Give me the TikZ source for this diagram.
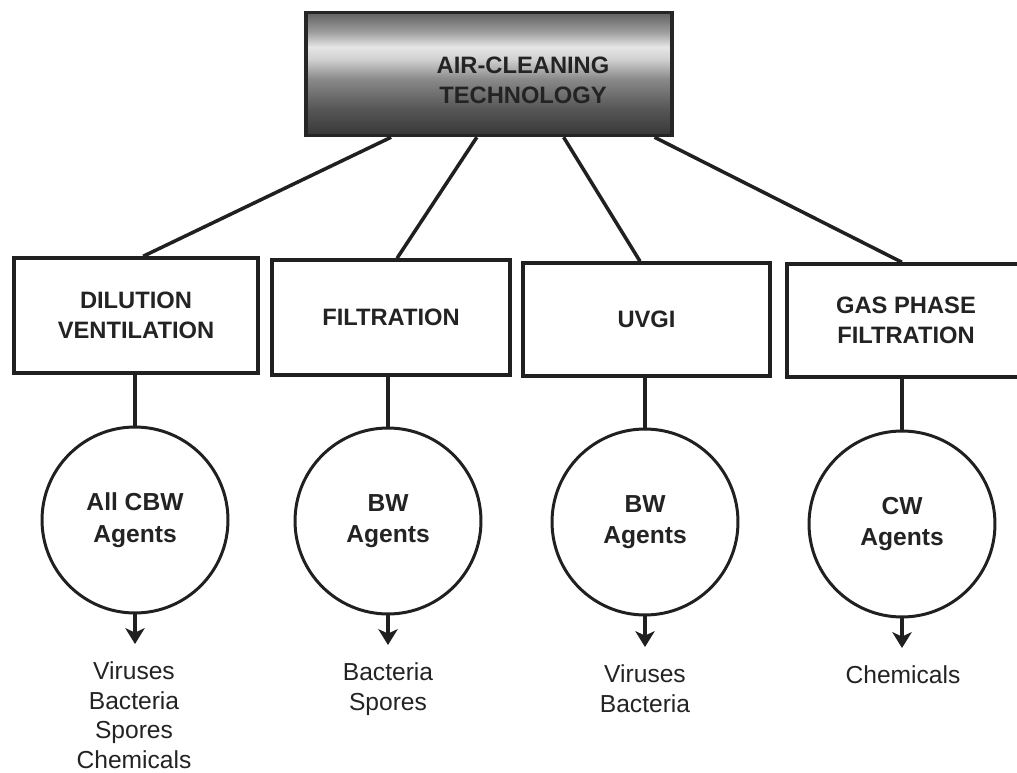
\documentclass[tikz,border=0pt]{standalone}
\usepackage{fontspec}
\setmainfont{Liberation Sans}
\usepackage{xcolor}
\usetikzlibrary{positioning,calc,arrows.meta}

\definecolor{inkgray}{HTML}{232323}
\definecolor{linegray}{HTML}{202020}
\pgfdeclareverticalshading{steelband}{100bp}{color(0bp)=(black!78); color(25bp)=(black!78); color(36bp)=(black!66); color(48bp)=(black!46); color(56bp)=(black!18); color(61bp)=(black!10); color(67bp)=(black!38); color(75bp)=(black!62); color(100bp)=(black!62)}

\tikzset{
  topbox/.style={draw=black!85, line width=2pt, rectangle, shading=steelband,
    minimum width=7.32cm, minimum height=2.46cm},
  toplabel/.style={align=center, text=inkgray, inner sep=0pt,
    font=\bfseries\fontsize{13.5}{17}\selectfont},
  catbox/.style={draw=linegray, line width=2pt, rectangle, align=center, text=inkgray,
    font=\bfseries\fontsize{13.5}{17}\selectfont},
  agent/.style={draw=linegray, line width=1.7pt, circle, minimum size=3.72cm, inner sep=0pt,
    align=center, text=inkgray, font=\bfseries\fontsize{14}{18}\selectfont},
  targets/.style={anchor=north, inner sep=0pt, align=center, text=inkgray,
    font=\fontsize{14}{17}\selectfont},
  link/.style={draw=linegray, line width=2pt},
  flow/.style={draw=linegray, line width=1.8pt, -{Stealth[length=9pt,width=11pt,inset=2.5pt]},
    shorten >=0.34cm}
}

\begin{document}
\begin{tikzpicture}[x=0.02cm, y=-0.02cm]
  \useasboundingbox[fill=white] (0,0) rectangle (1017,773);

  % Top box
  \node[topbox] (air) at (489,74) {};
  \node[toplabel] (airlabel) at (523,80) {AIR-CLEANING\\TECHNOLOGY};

  % Technologies
  \node[catbox, minimum width=4.88cm, minimum height=2.3cm] (dil) at (136,315.5) {DILUTION\\VENTILATION};
  \node[catbox, minimum width=4.76cm, minimum height=2.3cm] (fil) at (391,317.5) {FILTRATION};
  \node[catbox, minimum width=4.94cm, minimum height=2.26cm] (uvg) at (646.5,319.5) {UVGI};
  \node[catbox, minimum width=4.76cm, minimum height=2.26cm] (gas) at (906,320.5) {GAS PHASE\\FILTRATION};

  % Fan-out lines
  \draw[link] ($(air.south west)!0.235!(air.south east)$) -- ($(dil.north west)!0.529!(dil.north east)$);
  \draw[link] ($(air.south west)!0.467!(air.south east)$) -- ($(fil.north west)!0.525!(fil.north east)$);
  \draw[link] ($(air.south west)!0.702!(air.south east)$) -- ($(uvg.north west)!0.474!(uvg.north east)$);
  \draw[link] ($(air.south west)!0.948!(air.south east)$) -- ($(gas.north west)!0.483!(gas.north east)$);

  % Agents
  \node[agent] (cir1) at (135,520) {All CBW\\Agents};
  \node[agent] (cir2) at (388,521) {BW\\Agents};
  \node[agent] (cir3) at (645,522) {BW\\Agents};
  \node[agent] (cir4) at (902,524) {CW\\Agents};

  \draw[link] (cir1.north |- dil.south) -- (cir1.north);
  \draw[link] (cir2.north |- fil.south) -- (cir2.north);
  \draw[link] (cir3.north |- uvg.south) -- (cir3.north);
  \draw[link] (cir4.north |- gas.south) -- (cir4.north);

  % What each removes
  \node[targets] (tgt1) at (134,661) {Viruses\\Bacteria\\Spores\\Chemicals};
  \node[targets] (tgt2) at (388,662) {Bacteria\\Spores};
  \node[targets] (tgt3) at (645,664) {Viruses\\Bacteria};
  \node[targets] (tgt4) at (903,665) {Chemicals};

  \draw[flow] (cir1.south) -- (cir1.south |- tgt1.north);
  \draw[flow] (cir2.south) -- (cir2.south |- tgt2.north);
  \draw[flow] (cir3.south) -- (cir3.south |- tgt3.north);
  \draw[flow] (cir4.south) -- (cir4.south |- tgt4.north);
\end{tikzpicture}
\end{document}
